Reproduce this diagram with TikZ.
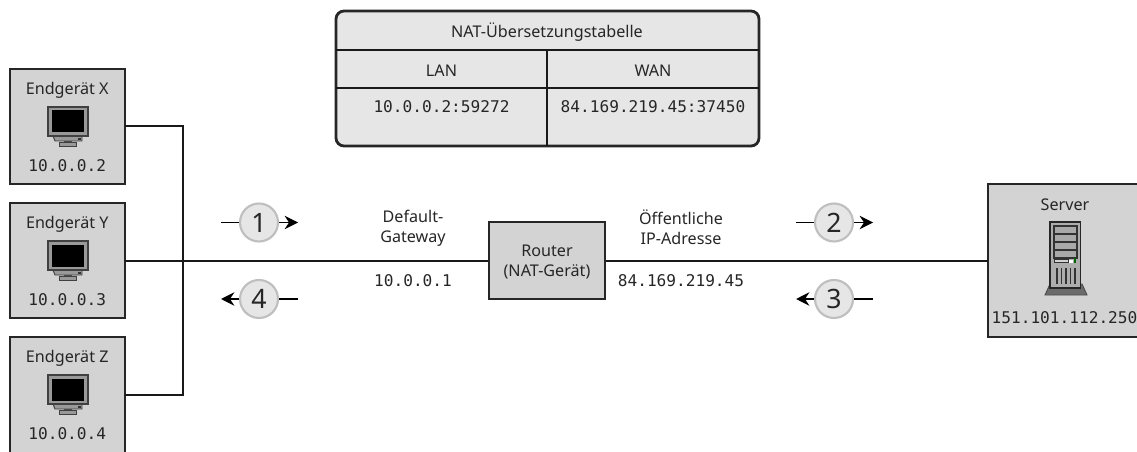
\documentclass[tikz,border=0pt]{standalone}
\usepackage{fontspec}
\setmainfont{Noto Sans}
\setmonofont{DejaVu Sans Mono}
\usetikzlibrary{arrows.meta}
\definecolor{boxgray}{HTML}{D3D3D3}
\definecolor{tabgray}{HTML}{E6E6E6}
\definecolor{icongray}{HTML}{999999}
\tikzset{
 x=0.75pt,y=-0.75pt,
 devbox/.style={draw=black!85,line width=1.5pt,fill=boxgray},
 wire/.style={draw=black!90,line width=1.5pt},
 label/.style={font=\fontsize{12.1pt}{15pt}\selectfont,text=black!85,inner sep=0,align=center},
 addr/.style={font=\ttfamily\fontsize{12.1pt}{14pt}\selectfont,text=black!85,inner sep=0},
 stepnum/.style={circle,draw=black!25,line width=1.6pt,fill=tabgray,minimum size=38*0.75pt,inner sep=0,font=\fontsize{20pt}{22pt}\selectfont,text=black!85},
 steparrow/.style={draw=black,line width=1.1pt,-{Stealth[length=10pt,width=10pt]}},
 stepline/.style={draw=black,line width=1.1pt},
 monitor/.pic={
  \draw[black!75,line width=.7pt,fill=icongray] (-15,12) -- (14,12) -- (14,17) -- (-13,17) -- cycle;
  \fill[black!80] (10,14) rectangle (13,16);
  \fill[black!70] (-4,17) rectangle (4,19);
  \draw[black!75,line width=.7pt,fill=icongray] (-9,18.5) rectangle (8,22);
  \draw[black!75,line width=.9pt,fill=icongray] (-20,-17) rectangle (20,12);
  \fill[black] (-16,-13.5) rectangle (15.5,8.5);
 },
 serverpic/.pic={
  \draw[black!70,line width=.7pt,fill=icongray!70!black] (-20,37) -- (-15,26) -- (17,26) -- (22,37) -- cycle;
  \draw[black!85,line width=.9pt,fill=icongray!80!white] (-15,-36) rectangle (15.5,30);
  \foreach \yy in {-32,-24,-16,-8}
   \draw[black!80,line width=.8pt,fill=boxgray!80!black] (-11,\yy) rectangle (12,\yy+8);
  \draw[black!80,line width=.5pt,fill=boxgray] (-11,1) rectangle (3,4.5);
  \fill[white] (4,1.5) rectangle (7.5,5);
  \fill[green!40!black] (8.5,0) rectangle (11,4.5);
  \foreach \xx in {-9,-4.5,0,4.5,9}
   \draw[black!80,line width=.8pt] (\xx+1,10) -- (\xx+1,26);
 },
}
\begin{document}
\begin{tikzpicture}
\useasboundingbox (0,0) rectangle (1137,452);
% boxes
\begin{scope}
\clip (0,0) rectangle (1137,452);
\path[devbox] (9.5,69) rectangle (125,184);
\path[devbox] (9.5,203) rectangle (125,318);
\path[devbox] (9.5,337) rectangle (125,455.5);
\path[devbox] (988,184) rectangle (1142,337);
\end{scope}
\node[inner sep=0,minimum width=115.5*.75pt,minimum height=115*.75pt] (X) at (67.25,126.5) {};
\node[inner sep=0,minimum width=115.5*.75pt,minimum height=115*.75pt] (Y) at (67.25,260.5) {};
\node[inner sep=0,minimum width=115.5*.75pt,minimum height=115*.75pt] (Z) at (67.25,394.5) {};
\node[inner sep=0,minimum width=154*.75pt,minimum height=153*.75pt] (S) at (1065,260.5) {};
\node[devbox,minimum width=116*.75pt,minimum height=77*.75pt,inner sep=0] (R) at (547,260.5) {};
\node[label] (rt) at (547,262.5) {Router\\(NAT-Gerät)};
\coordinate (J) at (182.5,260.5);
% wires
\draw[wire] (X.east) -| (J) |- (Z.east);
\draw[wire] (Y.east) -- (R.west);
\draw[wire] (R.east) -- (S.west);
% device texts
\node[label] (xt) at (67.25,90.5) {Endgerät X};
\node[label] (yt) at (67.25,224.5) {Endgerät Y};
\node[label] (zt) at (67.25,358.5) {Endgerät Z};
\node[addr] (xa) at (67.25,165.5) {10.0.0.2};
\node[addr] (ya) at (67.25,299.5) {10.0.0.3};
\node[addr] (za) at (67.25,433.5) {10.0.0.4};
\pic at (68,124) {monitor};
\pic at (68,258) {monitor};
\pic at (68,392) {monitor};
\node[label] (st) at (1065,205) {Server};
\node[addr] (sa) at (1064.5,318) {151.101.112.250};
\pic at (1065,258) {serverpic};
% link labels
\node[label] (gw) at (413,228) {Default-\\Gateway};
\node[addr] (gwa) at (413,280.5) {10.0.0.1};
\node[label] (oe) at (681,227) {Öffentliche\\IP-Adresse};
\node[addr] (oea) at (681,280.5) {84.169.219.45};
% steps
\node[stepnum] (n1) at (259,222.5) {1};
\node[stepnum] (n2) at (834,222.5) {2};
\node[stepnum] (n3) at (834,299) {3};
\node[stepnum] (n4) at (259,299) {4};
\coordinate (a1) at (221,222.5); \coordinate (b1) at (298,222.5);
\coordinate (a2) at (796,222.5); \coordinate (b2) at (873,222.5);
\coordinate (a3) at (873,299); \coordinate (b3) at (796,299);
\coordinate (a4) at (298,299); \coordinate (b4) at (221,299);
\draw[stepline] (a1) -- (n1);
\draw[steparrow] (n1) -- (b1);
\draw[stepline] (a2) -- (n2);
\draw[steparrow] (n2) -- (b2);
\draw[stepline] (a3) -- (n3);
\draw[steparrow] (n3) -- (b3);
\draw[stepline] (a4) -- (n4);
\draw[steparrow] (n4) -- (b4);
% table
\draw[draw=black!85,line width=2.1pt,fill=tabgray,rounded corners=8*.75pt] (336,11) rectangle (759,146);
\draw[black!90,line width=1.6pt] (336,50) -- (759,50) (336,88) -- (759,88);
\draw[black!90,line width=1.5pt] (547,50) -- (547,146);
\node[label] (t0) at (547,32) {NAT-Übersetzungstabelle};
\node[label] (t1) at (441.5,70.5) {LAN};
\node[label] (t2) at (653,70.5) {WAN};
\node[addr] (t3) at (441.5,107) {10.0.0.2:59272};
\node[addr] (t4) at (653,107) {84.169.219.45:37450};
\end{tikzpicture}
\end{document}
